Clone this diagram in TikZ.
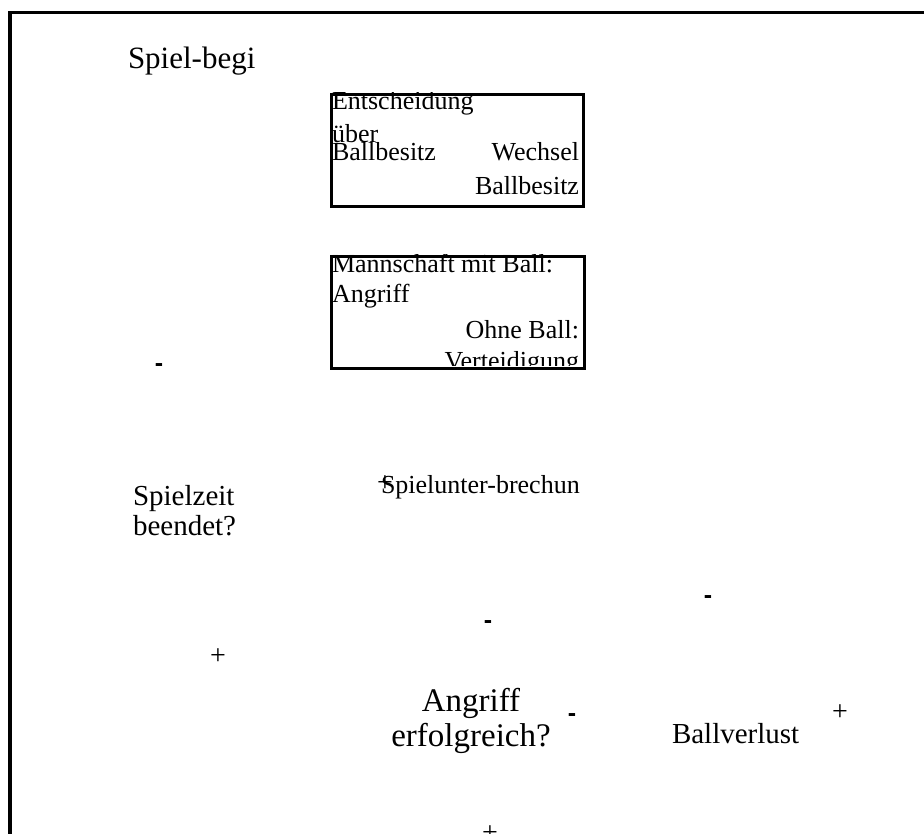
\documentclass[tikz,border=0pt]{standalone}
\usepackage{fontspec}
\setmainfont{Liberation Serif}
\newfontfamily\dashfont{Liberation Sans}
\tikzset{
  lbl/.style={inner sep=0pt, outer sep=0pt, font=\fontsize{29}{33}\selectfont},
  biglbl/.style={inner sep=0pt, outer sep=0pt, font=\fontsize{33}{37}\selectfont},
  boxtxt/.style={inner sep=0pt, outer sep=0pt, font=\fontsize{26}{30}\selectfont},
  title/.style={inner sep=0pt, outer sep=0pt, font=\fontsize{31}{36}\selectfont},
  minus/.style={inner sep=0pt, outer sep=0pt, font=\dashfont\bfseries\fontsize{25}{28}\selectfont},
  plus/.style={inner sep=0pt, outer sep=0pt, font=\fontsize{28}{30}\selectfont},
  frame/.style={line width=3.5pt},
  boxframe/.style={line width=3pt}
}
\begin{document}
\begin{tikzpicture}[x=1pt,y=-1pt]
\useasboundingbox (0,0) rectangle (924,834);
\clip (0,0) rectangle (924,834);
% outer frame
\coordinate (fbl) at (10,840);
\coordinate (ftl) at (10,12.5);
\coordinate (ftr) at (930,12.5);
\draw[frame] (fbl) -- (ftl) -- (ftr);
% title
\node[title, anchor=base west] (start) at (128,69) {Spiel-begi};
% box 1
\begin{scope}
\clip (330,93) rectangle (582,205);
\node[boxtxt, anchor=base west] (e1) at (332,110) {Entscheidung};
\node[boxtxt, anchor=base west] (e2) at (332,143) {über};
\node[boxtxt, anchor=base west] (e3) at (332,161) {Ballbesitz};
\node[boxtxt, anchor=base east] (w1) at (579,161) {Wechsel};
\node[boxtxt, anchor=base east] (w2) at (579,195) {Ballbesitz};
\end{scope}
\node[boxframe, draw, minimum width=252pt, minimum height=112pt, anchor=north west, inner sep=0pt] (box1) at (330,93) {};
% box 2
\begin{scope}
\clip (330,255) rectangle (583,366);
\node[boxtxt, anchor=base west] (m1) at (332,273) {Mannschaft mit Ball:};
\node[boxtxt, anchor=base west] (m2) at (332,303) {Angriff};
\node[boxtxt, anchor=base east] (o1) at (579,338) {Ohne Ball:};
\node[boxtxt, anchor=base east] (o2) at (579,370) {Verteidigung};
\end{scope}
\node[boxframe, draw, minimum width=253pt, minimum height=112pt, anchor=north west, inner sep=0pt] (box2) at (330,255) {};
% labels
\node[minus] (mA) at (159,368) {-};
\node[lbl, anchor=base west] (sz1) at (133,505) {Spielzeit};
\node[lbl, anchor=base west] (sz2) at (133,535) {beendet?};
\node[boxtxt, anchor=base west] (su) at (381,493) {Spielunter-brechun};
\node[plus] (pA) at (385,484) {+};
\node[minus] (mB) at (708,600) {-};
\node[minus] (mC) at (488,625) {-};
\node[plus] (pB) at (218,657) {+};
\node[biglbl, anchor=base] (ae1) at (471,711) {Angriff};
\node[biglbl, anchor=base] (ae2) at (471,746) {erfolgreich?};
\node[minus] (mD) at (572,718) {-};
\node[lbl, anchor=base west] (bv) at (672,743) {Ballverlust};
\node[plus] (pC) at (840,713) {+};
\node[plus] (pD) at (490,834) {+};
\end{tikzpicture}
\end{document}
